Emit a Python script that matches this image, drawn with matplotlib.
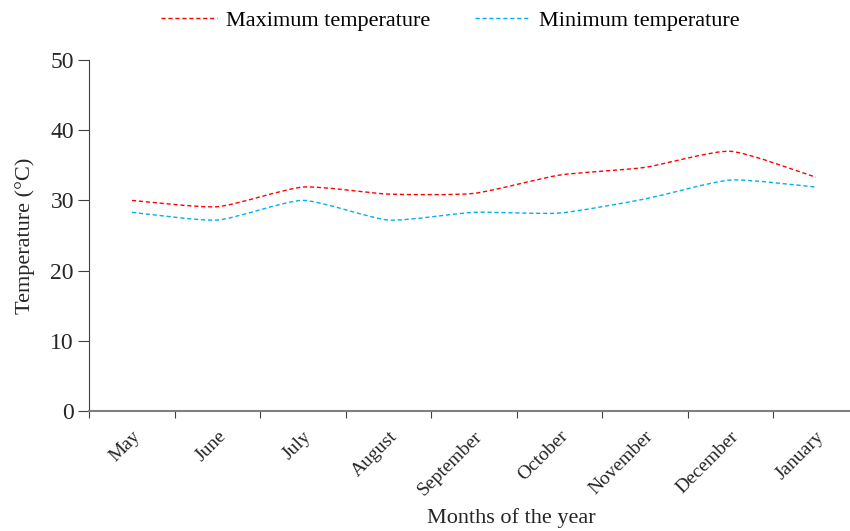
import numpy as np
import matplotlib.pyplot as plt
from matplotlib.path import Path
from matplotlib.patches import PathPatch
from matplotlib.lines import Line2D

plt.rcParams['font.family'] = ['Liberation Serif', 'DejaVu Serif']

months = ['May', 'June', 'July', 'August', 'September', 'October',
          'November', 'December', 'January']
t_max = [30.0, 29.1, 31.9, 30.9, 31.0, 33.6, 34.7, 37.0, 33.3]
t_min = [28.3, 27.2, 30.0, 27.2, 28.3, 28.2, 30.2, 32.9, 31.9]


def smooth_path(x, y, k=0.1):
    # smoothed line: cubic beziers through the points
    x = np.asarray(x, float)
    y = np.asarray(y, float)
    n = len(x)
    verts = [(x[0], y[0])]
    codes = [Path.MOVETO]
    for i in range(n - 1):
        p0 = i - 1 if i > 0 else i
        p3 = i + 2 if i + 2 < n else i + 1
        c1 = (x[i] + (x[i + 1] - x[p0]) * k, y[i] + (y[i + 1] - y[p0]) * k)
        c2 = (x[i + 1] - (x[p3] - x[i]) * k, y[i + 1] - (y[p3] - y[i]) * k)
        verts += [c1, c2, (x[i + 1], y[i + 1])]
        codes += [Path.CURVE4] * 3
    return Path(verts, codes)


fig = plt.figure(figsize=(8.5, 5.31), dpi=100)
ax = fig.add_axes([0.105, 0.226, 0.905, 0.661])

xs = np.arange(len(months)) + 0.5
styles = [(t_max, '#FF0000', 'Maximum temperature'),
          (t_min, '#00B0F0', 'Minimum temperature')]
handles = []
for vals, col, lab in styles:
    patch = PathPatch(smooth_path(xs, vals), fill=False, edgecolor=col,
                      lw=1.0, linestyle=(0, (3, 2)))
    ax.add_patch(patch)
    handles.append(Line2D([], [], color=col, lw=1.0, linestyle=(0, (3, 2)), label=lab))

ax.set_xlim(0, len(months))
ax.set_ylim(0, 50)
ax.set_yticks(range(0, 51, 10))
ax.set_xticks(np.arange(len(months) + 1))
ax.set_xticklabels([])
ax.set_xticks(xs, minor=True)
ax.set_xticklabels(months, minor=True, rotation=45, ha='right',
                   rotation_mode='anchor', fontsize=14, color='#262626')
ax.tick_params(axis='x', which='minor', length=0, pad=12)
ax.tick_params(axis='x', which='major', direction='out', length=5,
               color='#404040')
ax.tick_params(axis='y', direction='out', length=8, labelsize=17, pad=3,
               color='#404040', labelcolor='#262626')

for s in ['top', 'right']:
    ax.spines[s].set_visible(False)
ax.spines['left'].set_color('#404040')
ax.spines['bottom'].set_color('#808080')
ax.spines['bottom'].set_linewidth(1.5)

ax.set_ylabel('Temperature (°C)', fontsize=16, color='#262626', labelpad=11)
ax.set_xlabel('Months of the year', fontsize=16, color='#262626', labelpad=7,
              x=0.549)

fig.legend(handles=handles, loc='upper center', bbox_to_anchor=(0.53, 1.018),
           ncol=2, frameon=False, fontsize=16, handlelength=2.5,
           columnspacing=2.0, handletextpad=0.4)

fig.savefig('out.png', dpi=100)
